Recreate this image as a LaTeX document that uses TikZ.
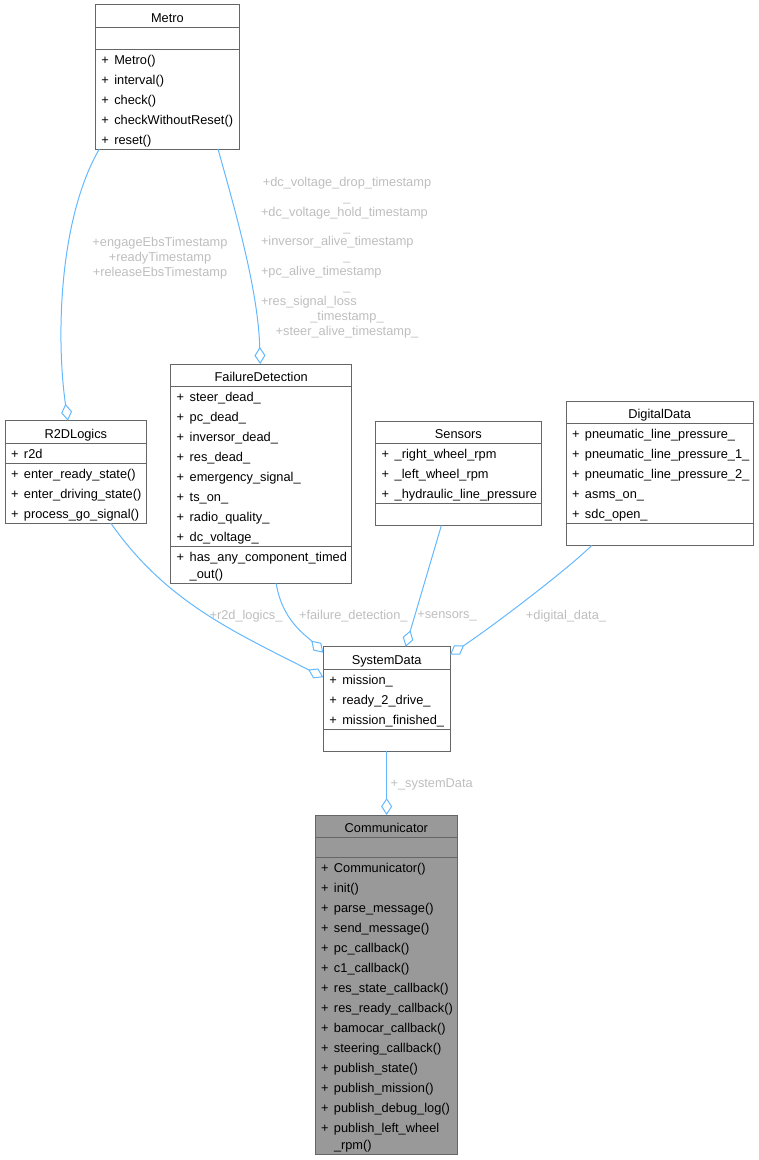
\documentclass[tikz,border=0pt]{standalone}
\usepackage{fontspec}
\setmainfont{Liberation Sans}
\usepackage{xcolor}
\definecolor{cBorder}{HTML}{666666}
\definecolor{cFocus}{HTML}{999999}
\definecolor{cEdge}{HTML}{63B8FF}
\definecolor{cLabel}{HTML}{BEBEBE}
\usepackage{tikz}
\usetikzlibrary{positioning,arrows.meta,calc}
\setlength\parindent{0pt}
\newcommand\rowst{\rule[-5pt]{0pt}{20pt}}
\newcommand\clsrow[1]{\rowst\makebox[13pt][l]{+}\mbox{#1}}
\newcommand\clsfont{\fontsize{12.8}{20}\selectfont}
\newcommand\lblfont{\fontsize{12.8}{14.9}\selectfont}
\tikzset{
  cls-title/.style={draw=cBorder,line width=1pt,fill=white,inner sep=0pt,
    outer sep=0pt,text height=17.5pt,text depth=5pt,align=center,font=\clsfont},
  cls-part/.style={draw=cBorder,line width=1pt,fill=white,inner xsep=6pt,
    inner ysep=0pt,outer sep=0pt,align=left,font=\clsfont},
  cls-empty/.style={draw=cBorder,line width=1pt,fill=white,inner sep=0pt,
    outer sep=0pt,minimum height=22pt},
  cls-focus/.style={fill=cFocus},
  agg-edge/.style={draw=cEdge,line width=1pt,
    -{Diamond[open,length=17pt,width=11pt]}},
  agg-label/.style={text=cLabel,inner sep=0pt,align=center,font=\lblfont},
}

\begin{document}
\begin{tikzpicture}[x=1pt,y=-1pt]
  \useasboundingbox (0,0) rectangle (759,1160);

  % classes
  \node[cls-title,minimum width=144.2pt] (metro) at (167.4,15.75) {Metro};
  \node[cls-empty,minimum width=144.2pt,below=0pt of metro] (metro-a) {};
  \node[cls-part,text width=132.2pt,below=0pt of metro-a] (metro-m)
    {\clsrow{Metro()}\\\clsrow{interval()}\\\clsrow{check()}\\
     \clsrow{checkWithoutReset()}\\\clsrow{reset()}};

  \node[cls-title,minimum width=141.7pt] (r2d) at (75.85,431.95) {R2DLogics};
  \node[cls-part,text width=129.7pt,below=0pt of r2d] (r2d-a) {\clsrow{r2d}};
  \node[cls-part,text width=129.7pt,below=0pt of r2d-a] (r2d-m)
    {\clsrow{enter\_ready\_state()}\\\clsrow{enter\_driving\_state()}\\
     \clsrow{process\_go\_signal()}};

  \node[cls-title,minimum width=181pt] (fd) at (261.2,375.25) {FailureDetection};
  \node[cls-part,text width=169pt,below=0pt of fd] (fd-a)
    {\clsrow{steer\_dead\_}\\\clsrow{pc\_dead\_}\\\clsrow{inversor\_dead\_}\\
     \clsrow{res\_dead\_}\\\clsrow{emergency\_signal\_}\\\clsrow{ts\_on\_}\\
     \clsrow{radio\_quality\_}\\\clsrow{dc\_voltage\_}};
  \node[cls-part,text width=169pt,below=0pt of fd-a] (fd-m)
    {\clsrow{has\_any\_component\_timed}\\[-3pt]\rowst\hspace*{13pt}\_out()};

  \node[cls-title,minimum width=165.3pt] (sn) at (458.35,432.25) {Sensors};
  \node[cls-part,text width=153.3pt,below=0pt of sn] (sn-a)
    {\clsrow{\_right\_wheel\_rpm}\\\clsrow{\_left\_wheel\_rpm}\\
     \clsrow{\_hydraulic\_line\_pressure}};
  \node[cls-empty,minimum width=165.3pt,below=0pt of sn-a] (sn-m) {};

  \node[cls-title,minimum width=187.3pt] (dd) at (659.65,412.25) {DigitalData};
  \node[cls-part,text width=175.3pt,below=0pt of dd] (dd-a)
    {\clsrow{pneumatic\_line\_pressure\_}\\\clsrow{pneumatic\_line\_pressure\_1\_}\\
     \clsrow{pneumatic\_line\_pressure\_2\_}\\\clsrow{asms\_on\_}\\
     \clsrow{sdc\_open\_}};
  \node[cls-empty,minimum width=187.3pt,below=0pt of dd-a] (dd-m) {};

  \node[cls-title,minimum width=126.7pt] (sd) at (386.65,657.95) {SystemData};
  \node[cls-part,text width=114.7pt,below=0pt of sd] (sd-a)
    {\clsrow{mission\_}\\\clsrow{ready\_2\_drive\_}\\\clsrow{mission\_finished\_}};
  \node[cls-empty,minimum width=126.7pt,below=0pt of sd-a] (sd-m) {};

  \node[cls-title,cls-focus,minimum width=142.7pt] (comm) at (386.35,826.25)
    {Communicator};
  \node[cls-empty,cls-focus,minimum width=142.7pt,minimum height=20pt,
    below=0pt of comm] (comm-a) {};
  \node[cls-part,cls-focus,text width=130.7pt,below=0pt of comm-a] (comm-m)
    {\clsrow{Communicator()}\\\clsrow{init()}\\\clsrow{parse\_message()}\\
     \clsrow{send\_message()}\\\clsrow{pc\_callback()}\\\clsrow{c1\_callback()}\\
     \clsrow{res\_state\_callback()}\\\clsrow{res\_ready\_callback()}\\
     \clsrow{bamocar\_callback()}\\\clsrow{steering\_callback()}\\
     \clsrow{publish\_state()}\\\clsrow{publish\_mission()}\\
     \clsrow{publish\_debug\_log()}\\
     \clsrow{publish\_left\_wheel}\\[-3pt]\rowst\hspace*{13pt}\_rpm()};

  % aggregation edges
  \draw[agg-edge] ([xshift=4pt]metro-m.south west)
    .. controls +(-41,71) and +(-11.7,-80.7) .. ([xshift=-8pt]r2d.north);
  \draw[agg-edge] ([xshift=-21.5pt]metro-m.south east)
    .. controls +(17,61) and +(-2,-74) .. ([xshift=-1pt]fd.north);
  \draw[agg-edge] ([xshift=35pt]r2d-m.south)
    .. controls +(54,77) and +(-93,-47) .. ([yshift=-8pt]sd-a.north west);
  \draw[agg-edge] ([xshift=15pt]fd-m.south)
    .. controls +(6,37) and +(-18,-18) .. ([yshift=-6pt]sd.north west);
  \draw[agg-edge] ([xshift=-17pt]sn-m.south) -- ([xshift=19pt]sd.north);
  \draw[agg-edge] ([xshift=-68pt]dd-m.south)
    .. controls +(-22,22) and +(45,-30) .. ([yshift=-8pt]sd.north east);
  \draw[agg-edge] (sd-m.south) -- (sd-m.south |- comm.north);

  % edge labels
  \node[agg-label,font=\fontsize{12.8}{15}\selectfont] (l-metro-r2d) at (160,257.7)
    {+engageEbsTimestamp\\+readyTimestamp\\+releaseEbsTimestamp};
  \node[agg-label] (l-metro-fd) at (347,257.5)
    {+dc\_voltage\_drop\_timestamp\\\_\\
     \makebox[172pt][l]{+dc\_voltage\_hold\_timestamp}\\\_\\
     \makebox[172pt][l]{+inversor\_alive\_timestamp}\\\_\\
     \makebox[172pt][l]{+pc\_alive\_timestamp}\\\_\\
     \makebox[172pt][l]{+res\_signal\_loss}\\\_timestamp\_\\
     +steer\_alive\_timestamp\_};
  \node[agg-label] (l-r2d) at (246,616) {+r2d\_logics\_};
  \node[agg-label] (l-fd) at (353.3,616) {+failure\_detection\_};
  \node[agg-label] (l-sn) at (447,616) {+sensors\_};
  \node[agg-label] (l-dd) at (566,616) {+digital\_data\_};
  \node[agg-label] (l-sys) at (431.7,784.7) {+\_systemData};
\end{tikzpicture}
\end{document}
